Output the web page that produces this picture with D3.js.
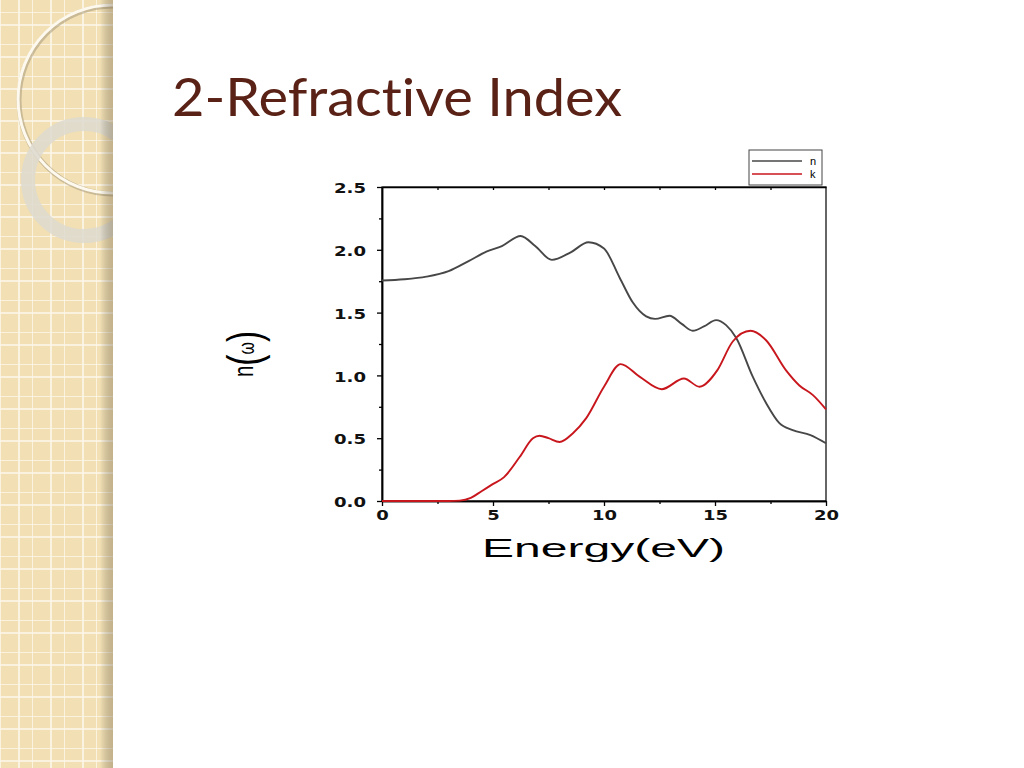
<!DOCTYPE html>
<html>
<head>
<meta charset="utf-8">
<script src="https://cdn.jsdelivr.net/npm/d3@7"></script>
<style>
  body { margin: 0; background: #fff; }
  svg { display: block; }
</style>
</head>
<body>
<script>
var w = 1024;
var h = 768;

// data
var nEnergy = [0, 1, 2, 3, 3.9, 4.7, 5.4, 6.25, 6.9, 7.65, 8.5, 9.3, 10.0, 10.7, 11.3, 11.9,
   12.3, 12.95, 13.5, 14.0, 14.5, 15.05, 15.5, 15.95, 16.7, 17.3, 17.9, 18.5, 19.3, 20];
var nValues = [1.755, 1.765, 1.786, 1.83, 1.91, 1.985, 2.03, 2.11, 2.03, 1.92, 1.98, 2.06, 2.01, 1.78, 1.58, 1.47,
   1.45, 1.475, 1.41, 1.355, 1.39, 1.44, 1.40, 1.30, 0.99, 0.78, 0.62, 0.565, 0.525, 0.46];
var kEnergy = [0, 1, 2, 3, 3.5, 4.0, 4.5, 4.95, 5.5, 6.2, 6.8, 7.1, 7.5, 8.0, 8.6, 9.2, 10.0, 10.75,
   11.6, 12.6, 13.6, 14.3, 15.1, 15.8, 16.6, 17.3, 18.2, 18.8, 19.4, 20];
var kValues = [0, 0, 0, 0, 0.003, 0.025, 0.08, 0.13, 0.19, 0.35, 0.50, 0.52, 0.50, 0.47, 0.54, 0.66, 0.91, 1.09,
   0.99, 0.89, 0.975, 0.91, 1.04, 1.27, 1.355, 1.28, 1.04, 0.92, 0.845, 0.73];
var xMajor = [0, 5, 10, 15, 20];
var xMinor = [2.5, 7.5, 12.5, 17.5];
var yMajor = [0, 0.5, 1.0, 1.5, 2.0, 2.5];
var yMinor = [0.25, 0.75, 1.25, 1.75, 2.25];
var seriesNames = ['n', 'k'];
var seriesColors = ['#474747', '#c8161d'];

var svg = d3.select('body')
   .append('svg')
   .attr('width', w)
   .attr('height', h);

// left decorative panel
var defs = svg.append('defs');
var pat = defs.append('pattern')
   .attr('id', 'grid')
   .attr('patternUnits', 'userSpaceOnUse')
   .attr('width', 32).attr('height', 32)
   .attr('y', 12);
pat.append('rect').attr('width', 32).attr('height', 32).attr('fill', '#f2e0b4');
pat.append('path')
   .attr('d', 'M0 0V32M19 0V32M0 0H32M0 13H32')
   .attr('stroke', '#fdf8ec').attr('stroke-width', 1.6);
var shade = defs.append('linearGradient').attr('id', 'shade');
shade.append('stop').attr('offset', '0').attr('stop-color', '#000').attr('stop-opacity', 0);
shade.append('stop').attr('offset', '1').attr('stop-color', '#6b5a3a').attr('stop-opacity', 0.35);
defs.append('clipPath').attr('id', 'panelClip')
   .append('rect').attr('width', 113).attr('height', h);

var panel = svg.append('g').attr('clip-path', 'url(#panelClip)');
panel.append('rect').attr('width', 113).attr('height', h).attr('fill', 'url(#grid)');
panel.append('circle')
   .attr('cx', 113).attr('cy', 100).attr('r', 94)
   .attr('fill', 'none').attr('stroke', '#a8997a').attr('stroke-width', 5).attr('opacity', 0.55);
panel.append('circle')
   .attr('cx', 112).attr('cy', 99).attr('r', 94)
   .attr('fill', 'none').attr('stroke', '#fdf9ee').attr('stroke-width', 3);
panel.append('circle')
   .attr('cx', 84).attr('cy', 180).attr('r', 56)
   .attr('fill', 'none').attr('stroke', '#ddd9cf').attr('stroke-width', 14).attr('opacity', 0.85);
panel.append('rect').attr('x', 100).attr('width', 13).attr('height', h).attr('fill', 'url(#shade)');

// title
svg.append('text')
   .text('2-Refractive Index')
   .attr('x', 172)
   .attr('y', 116)
   .attr('textLength', 450)
   .attr('lengthAdjust', 'spacingAndGlyphs')
   .attr('font-family', 'Lato, "Open Sans", sans-serif')
   .attr('font-size', '52px')
   .style('font-variant-ligatures', 'none')
   .attr('fill', '#5a2216');

// scales
var x = d3.scaleLinear().domain([0, 20]).range([382, 826]);
var y = d3.scaleLinear().domain([0, 2.5]).range([501, 187]);

function labelWidth(s) {
   var n = 0;
   for (var i = 0; i < s.length; i++) n += s[i] === '.' ? 7 : 12.5;
   return n;
}

function styleAxis(g) {
   g.select('.domain').attr('stroke', '#000').attr('stroke-width', 1.5);
   g.selectAll('.tick line').attr('stroke', '#000').attr('stroke-width', 1.3);
}

// frame (top, right)
svg.append('rect')
   .attr('x', x(0)).attr('y', y(2.5))
   .attr('width', x(20) - x(0)).attr('height', y(0) - y(2.5))
   .attr('fill', 'none').attr('stroke', '#000').attr('stroke-width', 1.2);

// top inward ticks
svg.append('g')
   .attr('transform', 'translate(0,' + y(2.5) + ')')
   .call(d3.axisTop(x).tickValues(xMinor.concat([5, 10, 15])).tickSize(-3).tickSizeOuter(0).tickFormat(''))
   .call(styleAxis);

// bottom axis
svg.append('g')
   .attr('transform', 'translate(0,' + y(0) + ')')
   .call(d3.axisBottom(x).tickValues(xMinor).tickSize(3).tickSizeOuter(0).tickFormat(''))
   .call(styleAxis);
var xAx = svg.append('g')
   .attr('transform', 'translate(0,' + y(0) + ')')
   .call(d3.axisBottom(x).tickValues(xMajor).tickSize(5).tickSizeOuter(0).tickFormat(d3.format('d')))
   .call(styleAxis);
xAx.selectAll('.tick text')
   .attr('y', 9)
   .attr('font-family', '"DejaVu Sans", sans-serif')
   .attr('font-weight', 'bold')
   .attr('font-size', '14px')
   .attr('fill', '#111')
   .attr('textLength', function(d) { return labelWidth(String(d)); })
   .attr('lengthAdjust', 'spacingAndGlyphs');

// left axis
svg.append('g')
   .attr('transform', 'translate(' + x(0) + ',0)')
   .call(d3.axisLeft(y).tickValues(yMinor).tickSize(3).tickSizeOuter(0).tickFormat(''))
   .call(styleAxis);
var yAx = svg.append('g')
   .attr('transform', 'translate(' + x(0) + ',0)')
   .call(d3.axisLeft(y).tickValues(yMajor).tickSize(5).tickSizeOuter(0).tickFormat(d3.format('.1f')))
   .call(styleAxis);
yAx.selectAll('.tick text')
   .attr('x', -16)
   .attr('dy', '0.4em')
   .attr('font-family', '"DejaVu Sans", sans-serif')
   .attr('font-weight', 'bold')
   .attr('font-size', '14px')
   .attr('fill', '#111')
   .attr('textLength', function(d) { return labelWidth(d3.format('.1f')(d)); })
   .attr('lengthAdjust', 'spacingAndGlyphs');

// axis titles
svg.append('text')
   .text('Energy(eV)')
   .attr('x', 482)
   .attr('y', 557)
   .attr('textLength', 243)
   .attr('lengthAdjust', 'spacingAndGlyphs')
   .attr('font-family', '"Liberation Sans", Arial, sans-serif')
   .attr('font-size', '25px')
   .attr('fill', '#000');

var yt = svg.append('text')
   .attr('transform', 'translate(253,377) rotate(-90)')
   .attr('font-family', '"Liberation Sans", Arial, sans-serif')
   .attr('fill', '#000');
yt.append('tspan').text('n').attr('font-size', '28px');
yt.append('tspan').text('(').attr('font-size', '46px').attr('dy', 7);
yt.append('tspan').text('ω').attr('font-size', '22px').attr('dy', -6);
yt.append('tspan').text(')').attr('font-size', '46px').attr('dy', 6);
yt.attr('textLength', 46).attr('lengthAdjust', 'spacingAndGlyphs');

// curves
var series = [
   { name: seriesNames[0], e: nEnergy, v: nValues, color: seriesColors[0] },
   { name: seriesNames[1], e: kEnergy, v: kValues, color: seriesColors[1] }
];
var line = d3.line()
   .x(function(d) { return x(d[0]); })
   .y(function(d) { return y(d[1]); })
   .curve(d3.curveMonotoneX);

svg.selectAll('path.curve')
   .data(series)
   .enter()
   .append('path')
   .attr('class', 'curve')
   .attr('d', function(s) { return line(d3.zip(s.e, s.v)); })
   .attr('fill', 'none')
   .attr('stroke', function(s) { return s.color; })
   .attr('stroke-width', 1.9);

// legend
var lg = svg.append('g').attr('transform', 'translate(749,150)');
lg.append('rect')
   .attr('width', 73).attr('height', 35)
   .attr('fill', '#fff').attr('stroke', '#444').attr('stroke-width', 1);
var items = lg.selectAll('g.item')
   .data(series)
   .enter()
   .append('g')
   .attr('class', 'item')
   .attr('transform', function(d, i) { return 'translate(0,' + (11 + i * 13) + ')'; });
items.append('line')
   .attr('x1', 3).attr('x2', 53)
   .attr('stroke', function(d) { return d.color; })
   .attr('stroke-width', 1.3);
items.append('text')
   .text(function(d) { return d.name; })
   .attr('x', 61).attr('y', 3.5)
   .attr('font-family', '"Liberation Sans", Arial, sans-serif')
   .attr('font-size', '11px')
   .attr('fill', '#000');
</script>
</body>
</html>
